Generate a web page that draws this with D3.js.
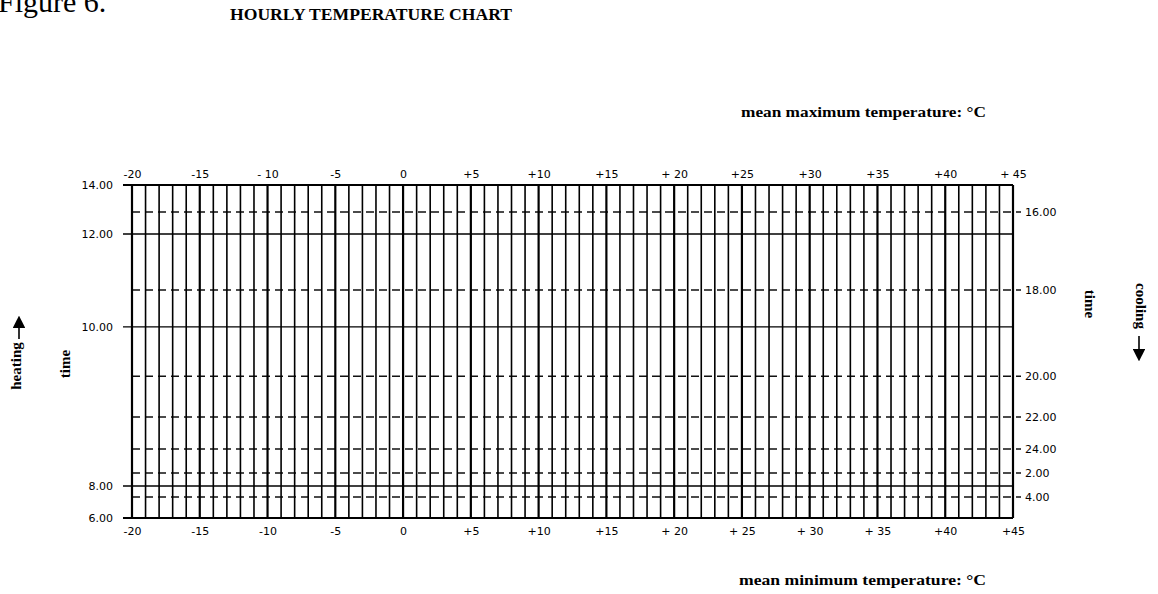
<!DOCTYPE html>
<html>
<head>
<meta charset="utf-8">
<script src="https://cdn.jsdelivr.net/npm/d3@7"></script>
<style>
  html, body { margin: 0; padding: 0; background: #fff; }
  svg { display: block; }
  .tick text { font-family: "DejaVu Sans", sans-serif; font-size: 11px; fill: #000; }
  .serifb { font-family: "Liberation Serif", "DejaVu Serif", serif; font-weight: bold; fill: #000; }
</style>
</head>
<body>
<svg id="chart" width="1158" height="594"></svg>
<script>
// ---- data ----
const tempMin = -20;
const tempMax = 45;
const gridTemps = d3.range(-20, 46, 1);            // one vertical line per degree
const labelTemps = [-20, -15, -10, -5, 0, 5, 10, 15, 20, 25, 30, 35, 40, 45];
const topLabels = ["-20", "-15", "- 10", "-5", "0", "+5", "+10", "+15", "+ 20", "+25", "+30", "+35", "+40", "+ 45"];
const bottomLabels = ["-20", "-15", "-10", "-5", "0", "+5", "+10", "+15", "+ 20", "+ 25", "+ 30", "+ 35", "+40", "+45"];
// fraction of daily range (0 = minimum, 1 = maximum)
const heatingTimes = ["6.00", "8.00", "10.00", "12.00", "14.00"];
const heatingFrac = [0, 0.096, 0.574, 0.853, 1];
const coolingTimes = ["16.00", "18.00", "20.00", "22.00", "24.00", "2.00", "4.00"];
const coolingFrac = [0.919, 0.685, 0.426, 0.303, 0.207, 0.135, 0.063];

// ---- layout ----
const svg = d3.select("#chart");
const x = d3.scaleLinear().domain([tempMin, tempMax]).range([132, 1013]);
const y = d3.scaleLinear().domain([0, 1]).range([518, 185]);

// Figure label (cut off at top, as in the scan)
svg.append("text").attr("x", -2).attr("y", 12)
  .attr("font-family", "Liberation Serif, serif").attr("font-size", 30).text("Figure 6.");

svg.append("text").attr("class", "serifb").attr("x", 230).attr("y", 20)
  .attr("font-size", 16).attr("textLength", 282).attr("lengthAdjust", "spacingAndGlyphs")
  .text("HOURLY TEMPERATURE CHART");

svg.append("text").attr("class", "serifb").attr("x", 741).attr("y", 117)
  .attr("font-size", 15).attr("textLength", 245).attr("lengthAdjust", "spacingAndGlyphs")
  .text("mean maximum temperature:  °C");
svg.append("text").attr("class", "serifb").attr("x", 739).attr("y", 585)
  .attr("font-size", 15).attr("textLength", 247).attr("lengthAdjust", "spacingAndGlyphs")
  .text("mean minimum temperature:   °C");

const g = svg.append("g");

// horizontal dashed lines (cooling times)
g.selectAll("line.cool").data(coolingFrac).join("line")
  .attr("class", "cool")
  .attr("x1", x(tempMin)).attr("x2", x(tempMax) + 8)
  .attr("y1", d => y(d)).attr("y2", d => y(d))
  .attr("stroke", "#111").attr("stroke-width", 1.5)
  .attr("stroke-dasharray", "8,5");

// horizontal solid lines (heating times)
g.selectAll("line.heat").data(heatingFrac).join("line")
  .attr("class", "heat")
  .attr("x1", x(tempMin) - 9).attr("x2", x(tempMax))
  .attr("y1", d => y(d)).attr("y2", d => y(d))
  .attr("stroke", "#000").attr("stroke-width", d => (d === 0 || d === 1) ? 2 : 1.4);

// vertical grid lines
g.selectAll("line.v").data(gridTemps).join("line")
  .attr("class", "v")
  .attr("x1", d => x(d)).attr("x2", d => x(d))
  .attr("y1", y(1)).attr("y2", y(0))
  .attr("stroke", "#000")
  .attr("stroke-width", d => (d % 5 === 0) ? 2.2 : 1.6);

// top axis (maximum temperature)
const topAxis = d3.axisTop(x).tickValues(labelTemps).tickSize(0).tickPadding(7)
  .tickFormat((d, i) => topLabels[i]);
svg.append("g").attr("transform", `translate(0,${y(1)})`).call(topAxis)
  .call(s => s.select(".domain").remove());

// bottom axis (minimum temperature)
const bottomAxis = d3.axisBottom(x).tickValues(labelTemps).tickSize(0).tickPadding(9)
  .tickFormat((d, i) => bottomLabels[i]);
svg.append("g").attr("transform", `translate(0,${y(0)})`).call(bottomAxis)
  .call(s => s.select(".domain").remove());

// left axis (heating times)
const yh = d3.scaleOrdinal().domain(heatingTimes).range(heatingFrac.map(f => y(f)));
const leftAxis = d3.axisLeft(yh).tickSize(0).tickPadding(19);
svg.append("g").attr("transform", `translate(${x(tempMin)},0)`).call(leftAxis)
  .call(s => s.select(".domain").remove());

// right axis (cooling times)
const yc = d3.scaleOrdinal().domain(coolingTimes).range(coolingFrac.map(f => y(f)));
const rightAxis = d3.axisRight(yc).tickSize(0).tickPadding(12);
svg.append("g").attr("transform", `translate(${x(tempMax)},0)`).call(rightAxis)
  .call(s => s.select(".domain").remove());

// side labels
function vtext(tx, ty, rot, txt, size) {
  svg.append("text").attr("class", "serifb")
    .attr("transform", `translate(${tx},${ty}) rotate(${rot})`)
    .attr("text-anchor", "middle").attr("dominant-baseline", "middle")
    .attr("font-size", size).text(txt);
}
vtext(18, 366, -90, "heating", 15);
vtext(67, 364, -90, "time", 15);
vtext(1088, 304, 90, "time", 15);
vtext(1139, 306, 90, "cooling", 15);

// arrows
const defs = svg.append("defs");
defs.append("marker").attr("id", "ah").attr("viewBox", "0 0 10 10")
  .attr("refX", 5).attr("refY", 5).attr("markerWidth", 8).attr("markerHeight", 8)
  .attr("orient", "auto")
  .append("path").attr("d", "M0,0 L10,5 L0,10 Z").attr("fill", "#000");
svg.append("line").attr("x1", 19).attr("y1", 339).attr("x2", 19).attr("y2", 322)
  .attr("stroke", "#000").attr("stroke-width", 1.6).attr("marker-end", "url(#ah)");
svg.append("line").attr("x1", 1139).attr("y1", 336).attr("x2", 1139).attr("y2", 355)
  .attr("stroke", "#000").attr("stroke-width", 1.6).attr("marker-end", "url(#ah)");
</script>
</body>
</html>
